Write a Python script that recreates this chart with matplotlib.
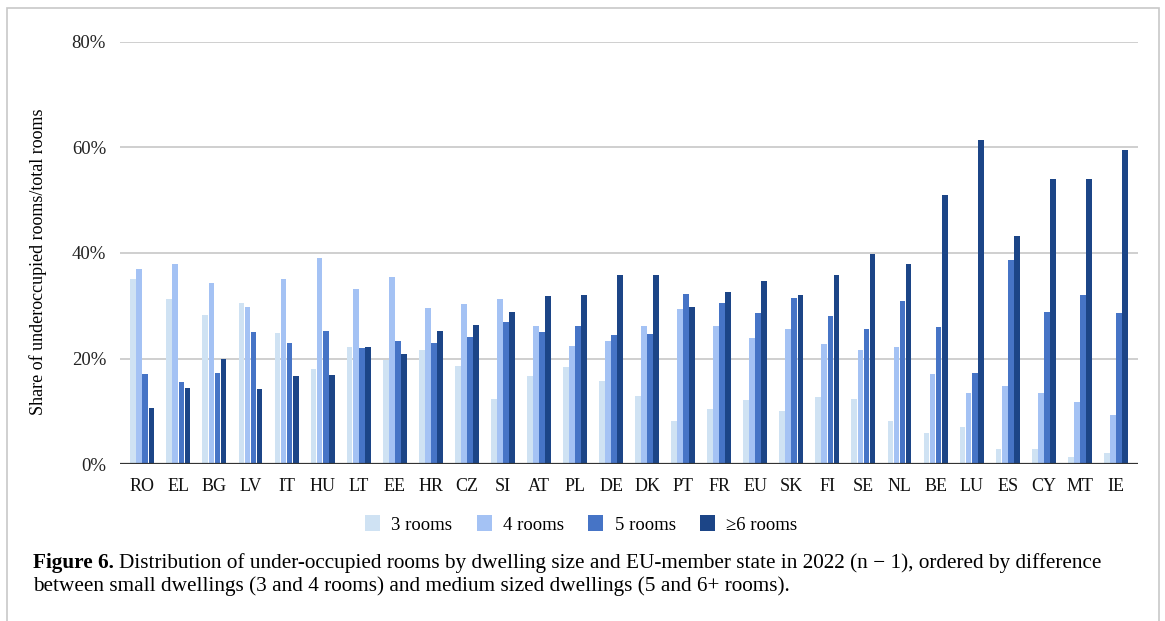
import matplotlib.pyplot as plt
import matplotlib.patches as patches
import numpy as np

# data (share in %)
countries = ["RO", "EL", "BG", "LV", "IT", "HU", "LT", "EE", "HR", "CZ", "SI", "AT", "PL", "DE",
             "DK", "PT", "FR", "EU", "SK", "FI", "SE", "NL", "BE", "LU", "ES", "CY", "MT", "IE"]
rooms_3 = [35.0, 31.3, 28.2, 30.5, 24.8, 18.1, 22.1, 19.8, 21.6, 18.5, 12.4, 16.7, 18.4, 15.8,
           12.9, 8.1, 10.4, 12.1, 10.1, 12.7, 12.4, 8.2, 5.8, 7.1, 2.8, 2.8, 1.3, 2.1]
rooms_4 = [37.0, 37.9, 34.4, 29.8, 35.0, 39.0, 33.2, 35.5, 29.5, 30.4, 31.2, 26.1, 22.4, 23.3,
           26.1, 29.3, 26.1, 23.8, 25.5, 22.7, 21.6, 22.1, 17.0, 13.5, 14.7, 13.5, 11.8, 9.3]
rooms_5 = [17.0, 15.5, 17.3, 25.0, 23.0, 25.3, 21.9, 23.3, 22.9, 24.1, 27.0, 25.0, 26.1, 24.4,
           24.7, 32.2, 30.5, 28.7, 31.5, 28.1, 25.5, 30.9, 25.9, 17.3, 38.7, 28.9, 32.0, 28.6]
rooms_6 = [10.7, 14.5, 19.9, 14.2, 16.7, 16.9, 22.1, 20.9, 25.3, 26.4, 28.9, 31.8, 32.1, 35.8,
           35.8, 29.8, 32.7, 34.7, 32.1, 35.8, 39.8, 38.0, 50.9, 61.4, 43.2, 54.0, 54.0, 59.5]
labels = ["3 rooms", "4 rooms", "5 rooms", "\u22656 rooms"]
colors = ["#cfe2f3", "#a4c2f4", "#4674c6", "#1c4587"]

plt.rcParams["font.family"] = ["Liberation Serif", "DejaVu Serif"]

fig = plt.figure(figsize=(11.65, 6.21), dpi=100)
ax = fig.add_axes([0.103, 0.2528, 0.874, 0.6796])

x = np.arange(len(countries))
w = 0.16
series = [rooms_3, rooms_4, rooms_5, rooms_6]
for i, (vals, lab, col) in enumerate(zip(series, labels, colors)):
    ax.bar(x + (i - 1.5) * 0.168, vals, width=w, color=col, label=lab, zorder=2)

ax.set_xlim(-0.62, len(countries) - 0.38)
ax.set_ylim(0, 80)
ax.set_yticks([0, 20, 40, 60, 80])
ax.set_yticklabels(["0%", "20%", "40%", "60%", "80%"], fontsize=13.5, color="#222222")
ax.set_xticks(x)
ax.set_xticklabels(countries, fontsize=13, color="#111111")
ax.tick_params(axis="both", length=0, pad=10)
ax.grid(axis="y", color="#cccccc", linewidth=1.3, zorder=0)
ax.axhline(0, color="#333333", linewidth=1.6, zorder=3)
for s in ax.spines.values():
    s.set_visible(False)
ax.set_ylabel("Share of underoccupied rooms/total rooms", fontsize=13)
ax.yaxis.set_label_coords(-0.072, 0.48)

fig.legend(loc="center", bbox_to_anchor=(0.499, 0.156), ncol=4, frameon=False,
           fontsize=13.5, handlelength=0.8, handleheight=1.0, handletextpad=0.6,
           columnspacing=1.3)

# outer frame of the figure page
fig.patches.append(patches.Rectangle((7 / 1165, -0.05), 1152 / 1165, 1.05 - 8 / 621,
                                     transform=fig.transFigure, fill=False,
                                     edgecolor="#c8c8c8", linewidth=1.2))

# caption, bold label followed by regular text
y1 = 1 - 568 / 621
y2 = 1 - 591 / 621
x0 = 33 / 1165
t1 = fig.text(x0, y1, "Figure 6.", fontsize=15.3, fontweight="bold", va="baseline")
fig.canvas.draw()
bb = t1.get_window_extent()
x1 = (bb.x1 + 5) / fig.bbox.width
fig.text(x1, y1, "Distribution of under-occupied rooms by dwelling size and EU-member state in 2022 "
         "(n \u2212 1), ordered by difference", fontsize=15.3, va="baseline")
fig.text(x0, y2, "between small dwellings (3 and 4 rooms) and medium sized dwellings (5 and 6+ rooms).",
         fontsize=15.3, va="baseline")

fig.savefig("out.png", dpi=100)
